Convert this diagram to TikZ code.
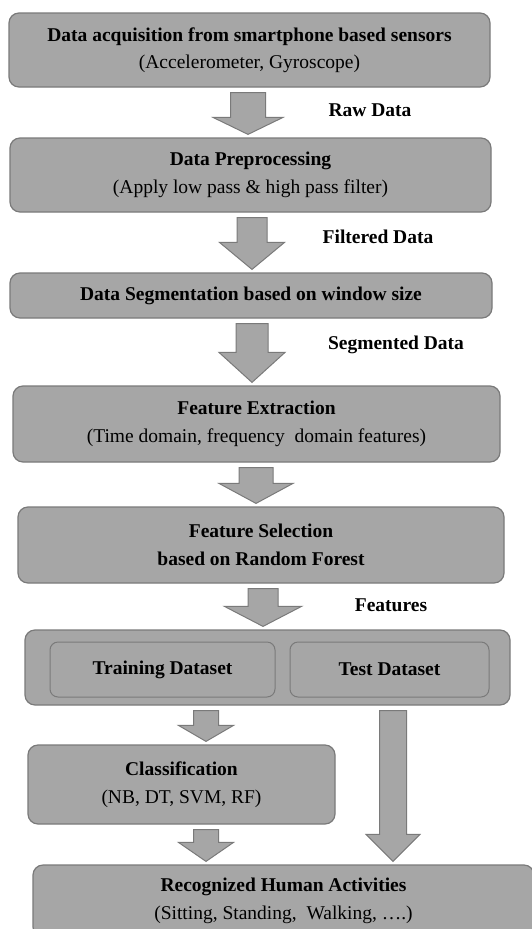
\documentclass[tikz,border=0pt]{standalone}
\usepackage{fontspec}
\setmainfont{Liberation Serif}
\usepackage{tikz}
\usetikzlibrary{calc,positioning}
\definecolor{boxgray}{RGB}{166,166,166}
\definecolor{edgegray}{RGB}{122,122,122}

% block arrow from the bottom of one node to the top of another
% #1 from, #2 to, #3 x, #4 shaft half width, #5 head half width, #6 head length
\newcommand{\flowarrow}[6]{%
  \draw[flowarrow] let \p1=(#1.south), \p2=(#2.north) in
    (#3pt-#4pt,\y1-5pt) -- (#3pt+#4pt,\y1-5pt) -- (#3pt+#4pt,\y2+3pt+#6pt)
    -- (#3pt+#5pt,\y2+3pt+#6pt) -- (#3pt,\y2+3pt) -- (#3pt-#5pt,\y2+3pt+#6pt)
    -- (#3pt-#4pt,\y2+3pt+#6pt) -- cycle;}

\begin{document}
\begin{tikzpicture}[x=1pt, y=-1pt,
    stage/.style={draw=edgegray, fill=boxgray, line width=1.2pt, rounded corners=10pt, align=center, inner sep=0pt, font=\fontsize{19.5}{27.5}\selectfont},
    subset/.style={draw=edgegray, fill=boxgray, line width=1pt, rounded corners=8pt, align=center, inner sep=0pt, font=\bfseries\fontsize{19.5}{27.5}\selectfont},
    flowarrow/.style={draw=edgegray, fill=boxgray, line width=1pt, line join=miter},
    datalabel/.style={font=\bfseries\fontsize{19.5}{27.5}\selectfont},
]
    \useasboundingbox (0,0) rectangle (532,929);
    \clip (0,0) rectangle (532,929);

    % Stages
    \node[stage, minimum width=481pt, minimum height=74pt] (acq) at (249.5,50) {\textbf{Data acquisition from smartphone based sensors}\\(Accelerometer, Gyroscope)};
    \node[stage, minimum width=481pt, minimum height=74pt] (pre) at (250.5,175) {\textbf{Data Preprocessing}\\(Apply low pass \& high pass filter)};
    \node[stage, minimum width=482pt, minimum height=45pt] (seg) at (251,295.5) {\textbf{Data Segmentation based on window size}};
    \node[stage, minimum width=487pt, minimum height=76pt] (ext) at (256.5,424) {\textbf{Feature Extraction}\\(Time domain, frequency~ domain features)};
    \node[stage, minimum width=486pt, minimum height=76pt] (sel) at (261,545) {\textbf{Feature Selection}\\\textbf{based on Random Forest}};

    % Datasets
    \node[stage, minimum width=485pt, minimum height=75pt] (sets) at (267.5,667.5) {};
    \node[subset, minimum width=225pt, minimum height=55pt] (train) at (162.5,669.5) {Training Dataset};
    \node[subset, minimum width=199pt, minimum height=55pt] (test) at (389.5,669.5) {Test Dataset};

    \node[stage, minimum width=307pt, minimum height=79pt] (cls) at (181.5,784.5) {\textbf{Classification}\\(NB, DT, SVM, RF)};
    \node[stage, minimum width=501pt, minimum height=72pt] (act) at (283.5,901) {\textbf{Recognized Human Activities}\\(Sitting, Standing,~ Walking, \dots.)};

    % Arrows
    \flowarrow{acq}{pre}{248}{17.5}{35}{17}
    \flowarrow{pre}{seg}{252}{15}{32.5}{27}
    \flowarrow{seg}{ext}{252}{16}{33}{30}
    \flowarrow{ext}{sel}{256}{17}{37}{20}
    \flowarrow{sel}{sets}{263}{15}{38.5}{20}
    \flowarrow{sets}{cls}{206}{12.5}{27.5}{16}
    \flowarrow{cls}{act}{206}{12.5}{27.5}{19}
    \flowarrow{sets}{act}{393}{13.5}{27}{27}

    % Labels
    \node[datalabel] (lraw) at (370,110) {Raw Data};
    \node[datalabel] (lfilt) at (378,237) {Filtered Data};
    \node[datalabel] (lseg) at (396,345) {Segmented Data};
    \node[datalabel] (lfeat) at (391,605) {Features};
\end{tikzpicture}
\end{document}
